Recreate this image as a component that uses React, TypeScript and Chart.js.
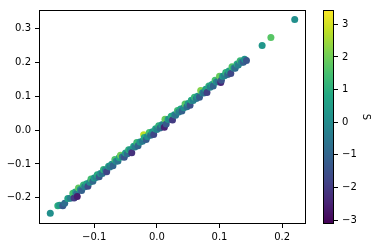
import React, { useEffect, useRef } from "react";
import { Chart, registerables } from "chart.js";
Chart.register(...registerables);

// ---- data ----
const xValues = [
  -0.170, -0.158, -0.155, -0.150, -0.147, -0.142, -0.138, -0.134, -0.132, -0.130,
  -0.128, -0.127, -0.125, -0.122, -0.120, -0.117, -0.115, -0.112, -0.110, -0.107,
  -0.105, -0.102, -0.100, -0.097, -0.095, -0.092, -0.090, -0.087, -0.085, -0.082,
  -0.080, -0.077, -0.075, -0.072, -0.070, -0.067, -0.065, -0.062, -0.060, -0.058,
  -0.055, -0.052, -0.050, -0.047, -0.045, -0.042, -0.040, -0.037, -0.035, -0.032,
  -0.030, -0.027, -0.023, -0.021, -0.020, -0.017, -0.015, -0.012, -0.010, -0.007,
  -0.005, -0.002, 0.000, 0.003, 0.005, 0.008, 0.010, 0.012, 0.013, 0.015,
  0.018, 0.020, 0.023, 0.025, 0.028, 0.030, 0.033, 0.035, 0.038, 0.040,
  0.043, 0.045, 0.048, 0.050, 0.053, 0.055, 0.058, 0.060, 0.063, 0.065,
  0.068, 0.070, 0.073, 0.075, 0.078, 0.080, 0.083, 0.085, 0.088, 0.090,
  0.093, 0.095, 0.098, 0.100, 0.102, 0.103, 0.105, 0.108, 0.110, 0.113,
  0.115, 0.118, 0.120, 0.123, 0.125, 0.128, 0.130, 0.133, 0.135, 0.138,
  0.140, 0.143, 0.168, 0.182, 0.220,
];
const yValues = [
  -0.245, -0.223, -0.222, -0.223, -0.216, -0.202, -0.201, -0.186, -0.200, -0.183,
  -0.187, -0.196, -0.171, -0.175, -0.178, -0.162, -0.167, -0.158, -0.166, -0.154,
  -0.144, -0.151, -0.141, -0.140, -0.132, -0.138, -0.128, -0.128, -0.116, -0.118,
  -0.123, -0.107, -0.109, -0.101, -0.105, -0.087, -0.092, -0.091, -0.081, -0.074,
  -0.079, -0.080, -0.068, -0.070, -0.058, -0.058, -0.067, -0.048, -0.050, -0.037,
  -0.046, -0.035, -0.033, -0.014, -0.022, -0.028, -0.019, -0.007, -0.015, -0.005,
  -0.013, 0.004, 0.002, 0.013, 0.006, 0.016, 0.016, 0.008, 0.032, 0.018,
  0.032, 0.032, 0.041, 0.030, 0.045, 0.044, 0.058, 0.053, 0.062, 0.056,
  0.066, 0.077, 0.069, 0.078, 0.073, 0.088, 0.087, 0.097, 0.093, 0.100,
  0.097, 0.117, 0.110, 0.109, 0.120, 0.111, 0.130, 0.126, 0.134, 0.130,
  0.147, 0.142, 0.144, 0.159, 0.140, 0.147, 0.159, 0.160, 0.170, 0.164,
  0.174, 0.167, 0.187, 0.183, 0.182, 0.195, 0.192, 0.204, 0.200, 0.200,
  0.209, 0.205, 0.249, 0.273, 0.326,
];
const sValues = [
  0.1, 1.0, 0.4, -1.3, -0.8, 0.6, -0.3, 1.5, -2.0, 0.9,
  -0.6, -2.6, 1.8, 0.2, -1.1, 1.2, -0.4, 0.7, -1.6, 0.0,
  1.4, -0.9, 0.4, -0.2, 0.9, -1.3, 0.2, -0.7, 1.1, -0.1,
  -1.8, 0.6, -0.5, 0.3, -1.0, 1.6, 0.0, -0.6, 0.8, 2.0,
  -0.3, -1.4, 0.5, -0.8, 1.0, 0.1, -2.2, 0.7, -0.4, 1.3,
  -1.0, 0.3, -0.5, 2.8, 0.9, -1.2, 0.0, 1.5, -0.7, 0.4,
  -1.7, 0.8, -0.2, 1.1, -0.9, 0.3, -0.4, -2.5, 1.9, -1.3,
  0.5, -0.1, 0.9, -2.0, 0.2, -0.6, 1.4, -0.3, 0.7, -1.1,
  0.0, 1.7, -0.8, 0.4, -1.5, 0.9, -0.2, 1.2, -0.5, 0.3,
  -1.2, 2.2, 0.1, -0.7, 0.6, -1.9, 1.0, -0.3, 0.5, -1.0,
  1.5, 0.0, -0.6, 1.9, -2.4, -1.4, 0.4, -0.2, 1.1, -0.9,
  0.6, -1.7, 1.6, 0.0, -0.8, 0.9, -0.3, 1.3, -0.1, -1.1,
  0.2, -1.4, 0.3, 1.7, 0.1,
];
const xTicks = [-0.1, 0.0, 0.1, 0.2];
const yTicks = [-0.2, -0.1, 0.0, 0.1, 0.2, 0.3];
const cbTicks = [-3, -2, -1, 0, 1, 2, 3];
const colorLabel = "S";

const xMin = -0.188, xMax = 0.238;
const yMin = -0.277, yMax = 0.354;
const sMin = -3.12, sMax = 3.44;

const VIRIDIS = ["#440154", "#482475", "#414487", "#355f8d", "#2a788e", "#21918c",
  "#22a884", "#44bf70", "#7ad151", "#bddf26", "#fde725"];

function hexToRgb(h: string) {
  return [parseInt(h.slice(1, 3), 16), parseInt(h.slice(3, 5), 16), parseInt(h.slice(5, 7), 16)];
}
function viridis(t: number) {
  const c = Math.max(0, Math.min(1, t)) * 10;
  const i = Math.min(9, Math.floor(c));
  const f = c - i;
  const a = hexToRgb(VIRIDIS[i]);
  const b = hexToRgb(VIRIDIS[i + 1]);
  const m = a.map((v, k) => Math.round(v + (b[k] - v) * f));
  return `rgb(${m[0]},${m[1]},${m[2]})`;
}
const fmt = (v: number, d: number) => (v < 0 ? "\u2212" : "") + Math.abs(v).toFixed(d);

const FONT = { family: "'DejaVu Sans', sans-serif", size: 10 };

const framePlugin = {
  id: "frame",
  afterDraw(chart: any) {
    const { ctx, chartArea: a } = chart;
    ctx.save();
    ctx.strokeStyle = "#000";
    ctx.lineWidth = 1;
    ctx.strokeRect(Math.round(a.left) + 0.5, Math.round(a.top) + 0.5,
      Math.round(a.right - a.left) - 1, Math.round(a.bottom - a.top) - 1);
    ctx.restore();
  },
};

const tickGrid = { display: true, drawOnChartArea: false, drawTicks: true, tickLength: 4, tickColor: "#000", tickWidth: 1 };

export default function App() {
  const mainRef = useRef<HTMLCanvasElement>(null);
  const cbRef = useRef<HTMLCanvasElement>(null);

  useEffect(() => {
    const points = xValues.map((x, i) => ({ x, y: yValues[i] }));
    const colors = sValues.map((s) => viridis((s - sMin) / (sMax - sMin)));
    const main = new Chart(mainRef.current!, {
      type: "scatter",
      data: {
        datasets: [{
          data: points,
          backgroundColor: colors,
          borderWidth: 0,
          pointRadius: 3.5,
          pointHoverRadius: 3.5,
        }],
      },
      options: {
        responsive: false,
        animation: false,
        events: [],
        layout: { padding: { left: 0, top: 6, right: 70, bottom: 0 } },
        plugins: { legend: { display: false }, tooltip: { enabled: false } },
        scales: {
          x: {
            type: "linear", min: xMin, max: xMax,
            grid: tickGrid as any, border: { display: false },
            afterBuildTicks: (s: any) => { s.ticks = xTicks.map((v) => ({ value: v })); },
            afterFit: (s: any) => { s.height = 24; },
            ticks: { color: "#000", font: FONT, padding: 3, maxRotation: 0, callback: (v: any) => fmt(Number(v), 1) },
          },
          y: {
            type: "linear", min: yMin, max: yMax,
            grid: tickGrid as any, border: { display: false },
            afterBuildTicks: (s: any) => { s.ticks = yTicks.map((v) => ({ value: v })); },
            afterFit: (s: any) => { s.width = 39; },
            ticks: { color: "#000", font: FONT, padding: 4, callback: (v: any) => fmt(Number(v), 1) },
          },
        },
      },
      plugins: [framePlugin],
    });

    const cb = new Chart(cbRef.current!, {
      type: "bar",
      data: {
        labels: [""],
        datasets: [{
          data: [[sMin, sMax]] as any,
          barPercentage: 1,
          categoryPercentage: 1,
          borderWidth: 0,
          backgroundColor: (ctx: any) => {
            const chart = ctx.chart;
            const yScale = chart.scales?.y;
            if (!chart.chartArea || !yScale) return VIRIDIS[5];
            const g = chart.ctx.createLinearGradient(0, yScale.getPixelForValue(sMin), 0, yScale.getPixelForValue(sMax));
            VIRIDIS.forEach((c, i) => g.addColorStop(i / 10, c));
            return g;
          },
        }],
      },
      options: {
        responsive: false,
        animation: false,
        events: [],
        layout: { padding: { left: 0, top: 6, right: 4, bottom: 24 } },
        plugins: { legend: { display: false }, tooltip: { enabled: false } },
        scales: {
          x: { display: false },
          y: {
            position: "right", min: sMin, max: sMax,
            grid: tickGrid as any, border: { display: false },
            afterBuildTicks: (s: any) => { s.ticks = cbTicks.map((v) => ({ value: v })); },
            afterFit: (s: any) => { s.width = 38; },
            ticks: { color: "#000", font: FONT, padding: 4, callback: (v: any) => fmt(Number(v), 0) },
            title: { display: true, text: colorLabel, color: "#000", font: FONT, padding: { top: 0, bottom: 4 } },
          },
        },
      },
      plugins: [framePlugin],
    });

    return () => { main.destroy(); cb.destroy(); };
  }, []);

  return (
    <div style={{ position: "fixed", left: 0, top: 0, width: 376, height: 248, background: "#fff" }}>
      <canvas ref={mainRef} width={376} height={248} style={{ position: "absolute", left: 0, top: 0 }} />
      <canvas ref={cbRef} width={53} height={248} style={{ position: "absolute", left: 323, top: 0 }} />
    </div>
  );
}
